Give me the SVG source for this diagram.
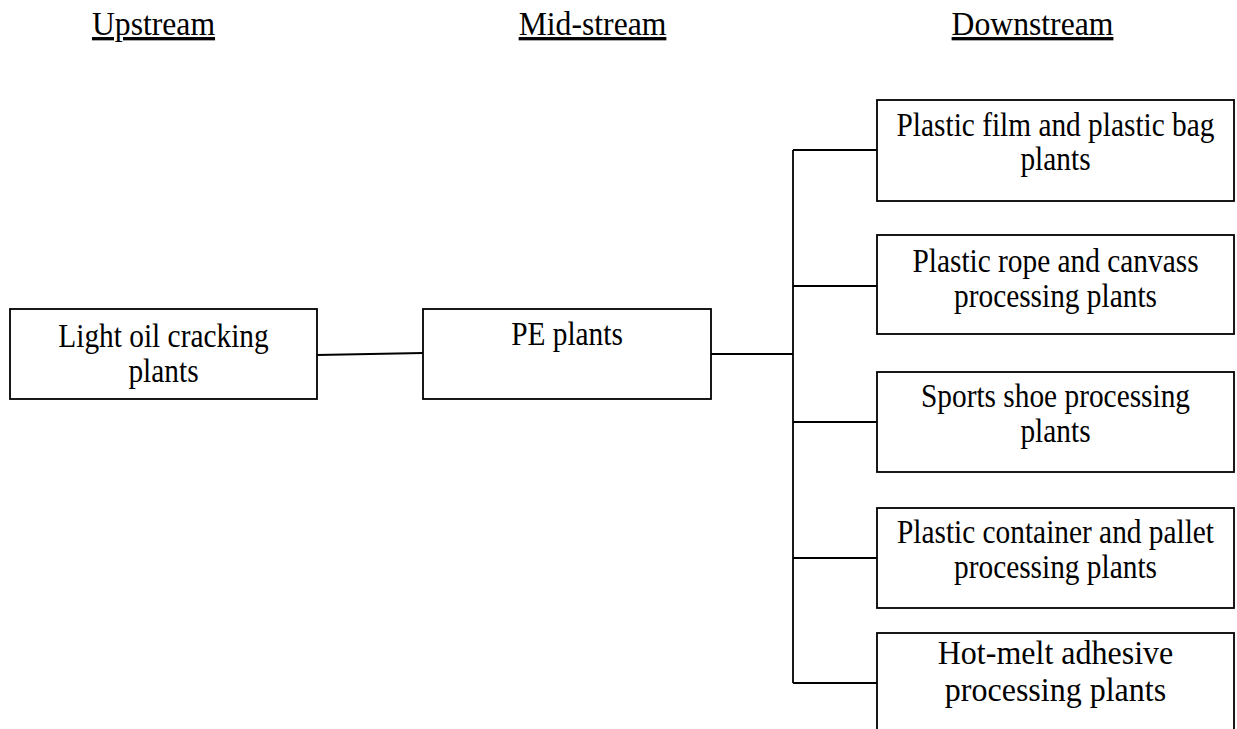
<svg xmlns="http://www.w3.org/2000/svg" width="1237" height="729" viewBox="0 0 1237 729">
  <style>
    .box { fill: #ffffff; stroke: #000000; stroke-width: 1.8; }
    .lbl { font-family: "Liberation Serif", "Times New Roman", serif; font-size: 33px; fill: #000000; text-anchor: middle; }
    .hdr { font-family: "Liberation Serif", "Times New Roman", serif; font-size: 33px; fill: #000000; text-anchor: middle; text-decoration: underline; }
    .wire { fill: none; stroke: #000000; stroke-width: 1.8; }
  </style>
  <rect width="1237" height="729" fill="#ffffff"/>

  <!-- column headings (slightly condensed lettering) -->
  <g id="headings">
    <text class="hdr" transform="translate(153.5 35) scale(0.96 1)">Upstream</text>
    <text class="hdr" transform="translate(592.5 35) scale(0.96 1)">Mid-stream</text>
    <text class="hdr" transform="translate(1032.5 35) scale(0.96 1)">Downstream</text>
  </g>

  <!-- connectors -->
  <g id="connectors">
    <line class="wire" x1="317" y1="355" x2="423" y2="353"/>
    <line class="wire" x1="711" y1="354" x2="793" y2="354"/>
    <line class="wire" x1="793" y1="150" x2="793" y2="683"/>
    <line class="wire" x1="793" y1="150" x2="877" y2="150"/>
    <line class="wire" x1="793" y1="286" x2="877" y2="286"/>
    <line class="wire" x1="793" y1="422" x2="877" y2="422"/>
    <line class="wire" x1="793" y1="558" x2="877" y2="558"/>
    <line class="wire" x1="793" y1="683" x2="877" y2="683"/>
  </g>

  <g id="light-oil-cracking">
    <rect class="box" x="10" y="309" width="307" height="90"/>
    <text class="lbl" transform="translate(163.5 347) scale(0.89 1)">Light oil cracking</text>
    <text class="lbl" transform="translate(163.5 382) scale(0.89 1)">plants</text>
  </g>

  <g id="pe-plants">
    <rect class="box" x="423" y="309" width="288" height="90"/>
    <text class="lbl" transform="translate(567 345) scale(0.89 1)">PE plants</text>
  </g>

  <g id="film-bag">
    <rect class="box" x="877" y="100" width="357" height="101"/>
    <text class="lbl" transform="translate(1055.5 136) scale(0.89 1)">Plastic film and plastic bag</text>
    <text class="lbl" transform="translate(1055.5 170) scale(0.89 1)">plants</text>
  </g>

  <g id="rope-canvass">
    <rect class="box" x="877" y="235" width="357" height="99"/>
    <text class="lbl" transform="translate(1055.5 272) scale(0.89 1)">Plastic rope and canvass</text>
    <text class="lbl" transform="translate(1055.5 307) scale(0.89 1)">processing plants</text>
  </g>

  <g id="sports-shoe">
    <rect class="box" x="877" y="372" width="357" height="100"/>
    <text class="lbl" transform="translate(1055.5 407) scale(0.89 1)">Sports shoe processing</text>
    <text class="lbl" transform="translate(1055.5 442) scale(0.89 1)">plants</text>
  </g>

  <g id="container-pallet">
    <rect class="box" x="877" y="508" width="357" height="100"/>
    <text class="lbl" transform="translate(1055.5 543) scale(0.89 1)">Plastic container and pallet</text>
    <text class="lbl" transform="translate(1055.5 578) scale(0.89 1)">processing plants</text>
  </g>

  <g id="hot-melt">
    <rect class="box" x="877" y="633" width="357" height="110"/>
    <text class="lbl" transform="translate(1055.5 664) scale(0.97 1)">Hot-melt adhesive</text>
    <text class="lbl" transform="translate(1055.5 701) scale(0.97 1)">processing plants</text>
  </g>
</svg>
